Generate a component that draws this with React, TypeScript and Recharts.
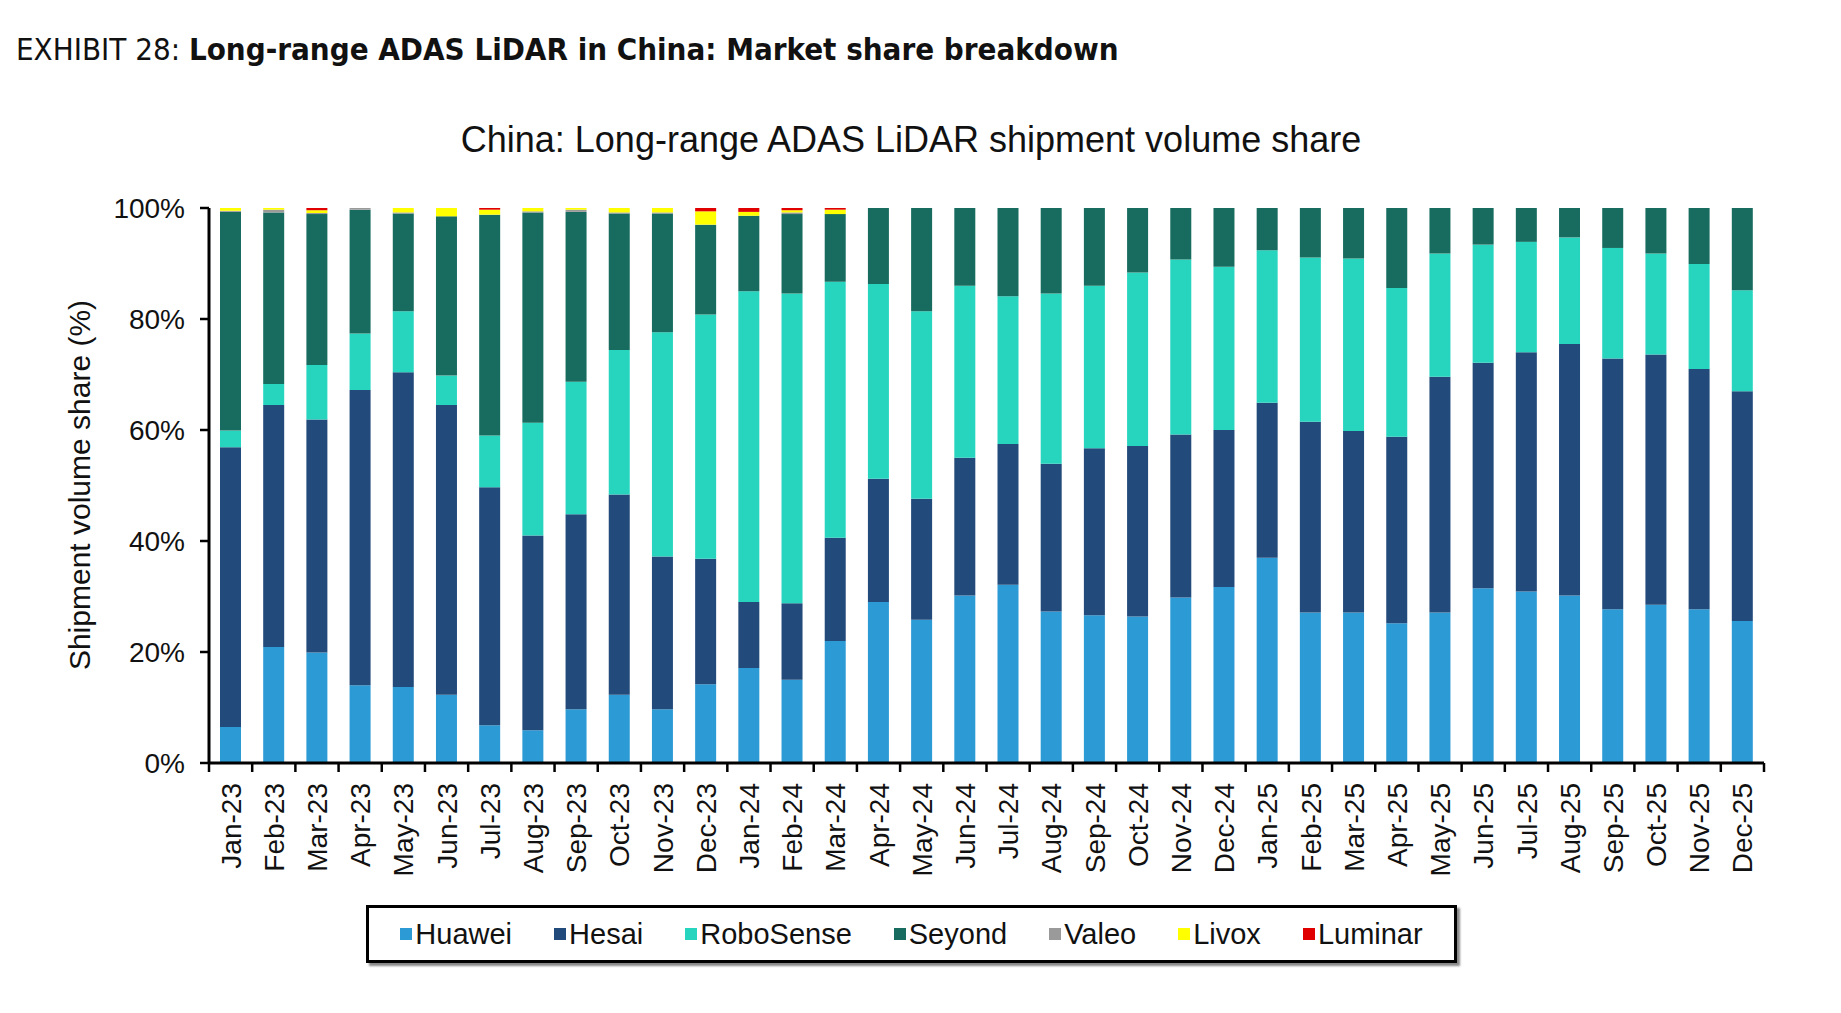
import { BarChart, Bar, XAxis, YAxis } from 'recharts';

const months = [
    'Jan-23', 'Feb-23', 'Mar-23', 'Apr-23', 'May-23', 'Jun-23', 'Jul-23', 'Aug-23', 'Sep-23', 'Oct-23', 'Nov-23', 'Dec-23',
    'Jan-24', 'Feb-24', 'Mar-24', 'Apr-24', 'May-24', 'Jun-24', 'Jul-24', 'Aug-24', 'Sep-24', 'Oct-24', 'Nov-24', 'Dec-24',
    'Jan-25', 'Feb-25', 'Mar-25', 'Apr-25', 'May-25', 'Jun-25', 'Jul-25', 'Aug-25', 'Sep-25', 'Oct-25', 'Nov-25', 'Dec-25',
];

const huawei = [6.5, 20.9, 19.9, 14.0, 13.7, 12.3, 6.8, 5.9, 9.7, 12.3, 9.7, 14.2, 17.1, 15.0, 22.0, 29.0, 25.8, 30.2, 32.1, 27.3, 26.6, 26.4, 29.8, 31.7, 37.0, 27.1, 27.1, 25.2, 27.1, 31.5, 30.9, 30.2, 27.7, 28.5, 27.7, 25.6];
const hesai = [50.4, 43.6, 42.0, 53.2, 56.7, 52.2, 42.9, 35.1, 35.1, 36.1, 27.5, 22.6, 11.9, 13.8, 18.6, 22.2, 21.8, 24.8, 25.4, 26.6, 30.1, 30.7, 29.4, 28.3, 27.9, 34.4, 32.7, 33.6, 42.5, 40.6, 43.1, 45.3, 45.2, 45.1, 43.3, 41.4];
const roboSense = [3.0, 3.8, 9.8, 10.2, 11.0, 5.3, 9.3, 20.3, 23.9, 26.0, 40.4, 44.0, 56.0, 55.8, 46.1, 35.1, 33.8, 31.0, 26.6, 30.7, 29.3, 31.3, 31.5, 29.4, 27.5, 29.6, 31.1, 26.8, 22.2, 21.3, 19.9, 19.2, 19.9, 18.2, 18.9, 18.2];
const seyond = [39.4, 30.9, 27.2, 22.3, 17.6, 28.7, 39.8, 37.9, 30.6, 24.6, 21.4, 16.2, 13.6, 14.3, 12.2, 13.7, 18.6, 14.0, 15.9, 15.4, 14.0, 11.6, 9.3, 10.6, 7.6, 8.9, 9.1, 14.4, 8.2, 6.6, 6.1, 5.3, 7.2, 8.2, 10.1, 14.8];
const valeo = [0.2, 0.5, 0.2, 0.3, 0.2, 0, 0, 0.2, 0.4, 0.2, 0.2, 0, 0, 0.3, 0, 0, 0, 0, 0, 0, 0, 0, 0, 0, 0, 0, 0, 0, 0, 0, 0, 0, 0, 0, 0, 0];
const livox = [0.5, 0.3, 0.5, 0, 0.8, 1.5, 0.9, 0.6, 0.3, 0.8, 0.8, 2.4, 0.7, 0.4, 0.8, 0, 0, 0, 0, 0, 0, 0, 0, 0, 0, 0, 0, 0, 0, 0, 0, 0, 0, 0, 0, 0];
const luminar = [0, 0, 0.4, 0, 0, 0, 0.3, 0, 0, 0, 0, 0.6, 0.7, 0.4, 0.3, 0, 0, 0, 0, 0, 0, 0, 0, 0, 0, 0, 0, 0, 0, 0, 0, 0, 0, 0, 0, 0];

const yTicks = [0, 20, 40, 60, 80, 100];

const series = [
    { key: 'Huawei', color: '#2C9AD5' },
    { key: 'Hesai', color: '#224A7A' },
    { key: 'RoboSense', color: '#27D5BF' },
    { key: 'Seyond', color: '#176C5F' },
    { key: 'Valeo', color: '#9A9A9A' },
    { key: 'Livox', color: '#FFFF00' },
    { key: 'Luminar', color: '#E00000' },
];

const data = months.map((m, i) => ({
    month: m,
    Huawei: huawei[i],
    Hesai: hesai[i],
    RoboSense: roboSense[i],
    Seyond: seyond[i],
    Valeo: valeo[i],
    Livox: livox[i],
    Luminar: luminar[i],
}));

const W = 1841;
const H = 1013;
const PLOT_LEFT = 209;
const PLOT_RIGHT = 1764;
const BAND = (PLOT_RIGHT - PLOT_LEFT) / months.length;
const FONT = '"Liberation Sans", Arial, sans-serif';

const XTick = ({ x, y, payload, index }: any) => {
    const left = x - BAND / 2;
    return (
        <g>
            <line x1={left} y1={y} x2={left} y2={y + 9} stroke="#000" strokeWidth={2.5} />
            {index === months.length - 1 && (
                <line x1={x + BAND / 2} y1={y} x2={x + BAND / 2} y2={y + 9} stroke="#000" strokeWidth={2.5} />
            )}
            <text
                transform={`translate(${x},${y + 20}) rotate(-90)`}
                textAnchor="end"
                dy="0.36em"
                fontSize={28}
                fontFamily={FONT}
                fill="#111"
            >
                {payload.value}
            </text>
        </g>
    );
};

const YTick = ({ x, y, payload }: any) => (
    <g>
        <line x1={x - 9} y1={y} x2={x} y2={y} stroke="#000" strokeWidth={2.5} />
        <text x={x - 24} y={y} dy="0.36em" textAnchor="end" fontSize={28} fontFamily={FONT} fill="#111">
            {payload.value}%
        </text>
    </g>
);

const App = () => {
    return (
        <div style={{ position: 'absolute', left: 0, top: 0, width: W, height: H, background: '#fff' }}>
            <div
                style={{
                    position: 'absolute',
                    left: 16,
                    top: 31,
                    fontSize: 31,
                    fontFamily: '"DejaVu Sans Condensed", "Liberation Sans Narrow", "Open Sans", sans-serif',
                    color: '#111',
                    whiteSpace: 'nowrap',
                }}
            >
                <span style={{ fontWeight: 300 }}>EXHIBIT 28: </span>
                <span style={{ fontWeight: 700 }}>Long-range ADAS LiDAR in China: Market share breakdown</span>
            </div>
            <div
                style={{
                    position: 'absolute',
                    left: 0,
                    width: 1822,
                    top: 119,
                    textAlign: 'center',
                    fontSize: 36,
                    fontFamily: FONT,
                    color: '#111',
                }}
            >
                China: Long-range ADAS LiDAR shipment volume share
            </div>
            <div
                style={{
                    position: 'absolute',
                    left: 80,
                    top: 485,
                    transform: 'translate(-50%, -50%) rotate(-90deg)',
                    fontSize: 30,
                    fontFamily: FONT,
                    color: '#111',
                    whiteSpace: 'nowrap',
                }}
            >
                Shipment volume share (%)
            </div>
            <div style={{ position: 'absolute', left: 0, top: 0 }}>
                <BarChart width={W} height={H} data={data} margin={{ top: 208, right: W - PLOT_RIGHT, bottom: 150, left: PLOT_LEFT - 60 }}>
                    <XAxis
                        dataKey="month"
                        height={100}
                        interval={0}
                        tickSize={0}
                        tickMargin={0}
                        tick={<XTick />}
                        axisLine={{ stroke: '#000', strokeWidth: 3 }}
                    />
                    <YAxis
                        width={60}
                        domain={[0, 100]}
                        ticks={yTicks}
                        allowDataOverflow
                        tickSize={0}
                        tickMargin={0}
                        tick={<YTick />}
                        axisLine={{ stroke: '#000', strokeWidth: 3 }}
                    />
                    {series.map((s) => (
                        <Bar key={s.key} dataKey={s.key} stackId="a" fill={s.color} barSize={21} isAnimationActive={false} />
                    ))}
                </BarChart>
            </div>
            <div
                style={{
                    position: 'absolute',
                    left: 366,
                    top: 905,
                    width: 1091,
                    height: 58,
                    boxSizing: 'border-box',
                    border: '3px solid #000',
                    boxShadow: '3px 3px 2px #888',
                    display: 'flex',
                    alignItems: 'center',
                    justifyContent: 'center',
                    gap: 42,
                    fontFamily: FONT,
                    fontSize: 29,
                    color: '#111',
                }}
            >
                {series.map((s) => (
                    <div key={s.key} style={{ display: 'flex', alignItems: 'center' }}>
                        <span style={{ display: 'inline-block', width: 12, height: 12, background: s.color, marginRight: 3 }} />
                        <span>{s.key}</span>
                    </div>
                ))}
            </div>
        </div>
    );
};

export default App;
